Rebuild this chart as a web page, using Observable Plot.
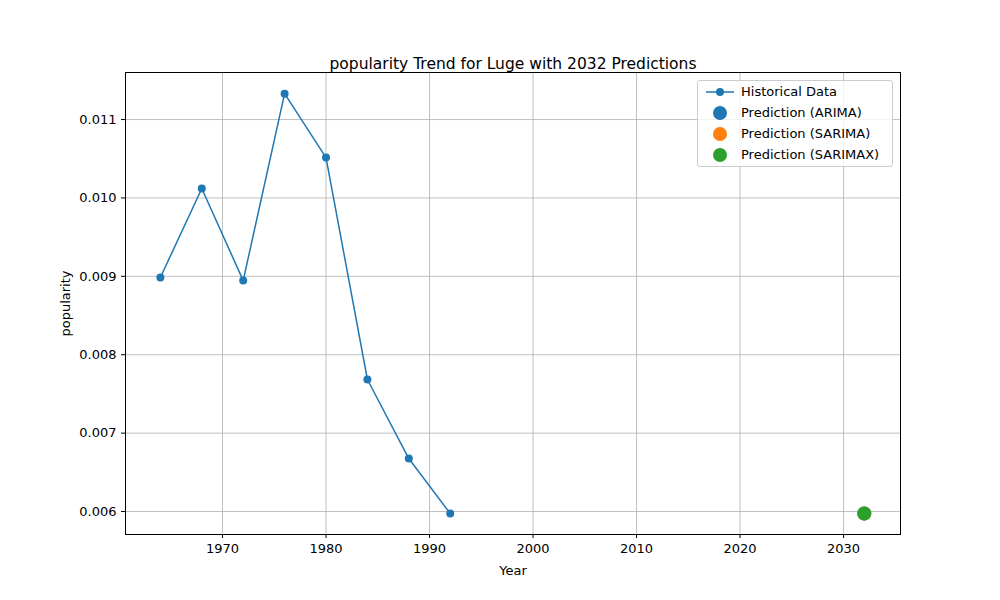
<!DOCTYPE html>
<html><head><meta charset="utf-8">
<script src="https://cdn.jsdelivr.net/npm/d3@7"></script>
<script src="https://cdn.jsdelivr.net/npm/@observablehq/plot@0.6"></script>
<style>
body{margin:0;background:#fff;font-family:"DejaVu Sans",sans-serif}
#wrap{position:relative;width:1000px;height:600px}
#legend{position:absolute;left:697px;top:80px;width:194px;height:85px;border:1px solid #ccc;border-radius:3px;background:rgba(255,255,255,0.8);font-size:13px;color:#000}
.row{position:absolute;left:0;height:20px;line-height:20px}
.row span{position:absolute;left:43px;white-space:nowrap}
</style></head><body>
<div id="wrap"><div id="chart"></div>
<div id="legend">
 <div class="row" style="top:1px"><svg width="40" height="20"><line x1="8" x2="36" y1="10" y2="10" stroke="#1f77b4" stroke-width="1.5"/><circle cx="22" cy="10" r="4" fill="#1f77b4"/></svg><span>Historical Data</span></div>
 <div class="row" style="top:22px"><svg width="40" height="20"><circle cx="22" cy="10" r="7" fill="#1f77b4"/></svg><span>Prediction (ARIMA)</span></div>
 <div class="row" style="top:43px"><svg width="40" height="20"><circle cx="22" cy="10" r="7" fill="#ff7f0e"/></svg><span>Prediction (SARIMA)</span></div>
 <div class="row" style="top:64px"><svg width="40" height="20"><circle cx="22" cy="10" r="7" fill="#2ca02c"/></svg><span>Prediction (SARIMAX)</span></div>
</div></div>
<script>
const years = [1964, 1968, 1972, 1976, 1980, 1984, 1988, 1992];
const popularity = [0.008985, 0.01012, 0.008946, 0.01133, 0.010515, 0.007684, 0.006676, 0.005974];
const predYear = 2032;
const predModels = ["ARIMA", "SARIMA", "SARIMAX"];
const predValues = [0.005974, 0.005974, 0.005974];
const predColors = ["#1f77b4", "#ff7f0e", "#2ca02c"];

const hist = years.map((y, i) => ({year: y, value: popularity[i]}));
const preds = predModels.map((m, i) => ({model: m, year: predYear, value: predValues[i], color: predColors[i]}));

const chart = Plot.plot({
  width: 1000, height: 600,
  marginLeft: 125, marginRight: 100, marginTop: 72, marginBottom: 66,
  style: {fontFamily: "DejaVu Sans, sans-serif", fontSize: "13px", background: "#fff", color: "#000"},
  x: {domain: [1960.63, 2035.5], ticks: [1970, 1980, 1990, 2000, 2010, 2020, 2030], tickFormat: d => String(d), label: "Year", labelArrow: "none", labelAnchor: "center", labelOffset: 40, tickSize: 4},
  y: {domain: [0.005707, 0.0116], ticks: [0.006, 0.007, 0.008, 0.009, 0.010, 0.011], tickFormat: ".3f", label: "popularity", labelArrow: "none", labelAnchor: "center", labelOffset: 65, tickSize: 4},
  marks: [
    Plot.gridX([1970, 1980, 1990, 2000, 2010, 2020, 2030], {stroke: "#b0b0b0", strokeOpacity: 1, strokeWidth: 0.8}),
    Plot.gridY([0.006, 0.007, 0.008, 0.009, 0.010, 0.011], {stroke: "#b0b0b0", strokeOpacity: 1, strokeWidth: 0.8}),
    Plot.frame({stroke: "#000"}),
    Plot.line(hist, {x: "year", y: "value", stroke: "#1f77b4", strokeWidth: 1.5}),
    Plot.dot(hist, {x: "year", y: "value", fill: "#1f77b4", r: 4}),
    Plot.dot(preds, {x: "year", y: "value", fill: "color", r: 7}),
    Plot.text(["popularity Trend for Luge with 2032 Predictions"], {frameAnchor: "top", dy: -15, fontSize: 15.5, fill: "#000"})
  ]
});
d3.select("#chart").append(() => chart);
</script></body></html>
